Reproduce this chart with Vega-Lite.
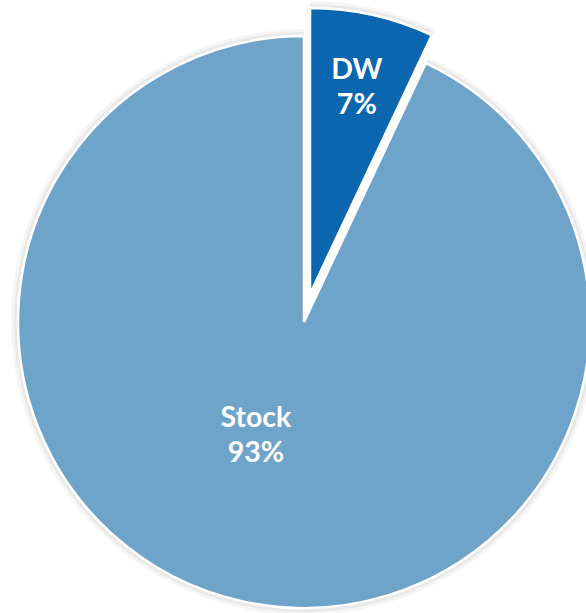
{
  "$schema": "https://vega.github.io/schema/vega-lite/v6.json",
  "width": 564,
  "height": 582,
  "autosize": {"type": "none"},
  "padding": {"left": 22, "top": 31, "right": 0, "bottom": 0},
  "background": "white",
  "config": {"view": {"stroke": null}},
  "data": {
    "values": [
      {"name": "DW", "value": 7, "label": "DW\n7%"},
      {"name": "Stock", "value": 93, "label": "Stock\n93%"}
    ]
  },
  "encoding": {
    "theta": {"field": "value", "type": "quantitative", "stack": true},
    "order": {"field": "name", "type": "ordinal", "sort": "ascending"}
  },
  "layer": [
    {
      "mark": {"type": "arc", "outerRadius": 293, "fill": "#000000", "fillOpacity": 0.04, "strokeOpacity": 0},
      "encoding": {"opacity": {"condition": {"test": "datum.name === 'Stock'", "value": 1}, "value": 0}}
    },
    {
      "mark": {"type": "arc", "outerRadius": 290, "fill": "#000000", "fillOpacity": 0.05, "strokeOpacity": 0},
      "encoding": {"opacity": {"condition": {"test": "datum.name === 'Stock'", "value": 1}, "value": 0}}
    },
    {
      "mark": {"type": "arc", "outerRadius": 293, "fill": "#000000", "fillOpacity": 0.04, "strokeOpacity": 0, "xOffset": 6, "yOffset": -28},
      "encoding": {"opacity": {"condition": {"test": "datum.name === 'DW'", "value": 1}, "value": 0}}
    },
    {
      "mark": {"type": "arc", "outerRadius": 290, "fill": "#000000", "fillOpacity": 0.05, "strokeOpacity": 0, "xOffset": 6, "yOffset": -28},
      "encoding": {"opacity": {"condition": {"test": "datum.name === 'DW'", "value": 1}, "value": 0}}
    },
    {
      "mark": {"type": "arc", "outerRadius": 286, "stroke": "white", "strokeWidth": 2.5},
      "encoding": {
        "color": {"field": "name", "type": "nominal", "scale": {"domain": ["DW", "Stock"], "range": ["#0b66b0", "#6fa4ca"]}, "legend": null},
        "opacity": {"condition": {"test": "datum.name === 'Stock'", "value": 1}, "value": 0}
      }
    },
    {
      "mark": {"type": "arc", "outerRadius": 286, "stroke": "white", "strokeWidth": 2.5, "xOffset": 6, "yOffset": -28},
      "encoding": {
        "color": {"field": "name", "type": "nominal", "scale": {"domain": ["DW", "Stock"], "range": ["#0b66b0", "#6fa4ca"]}, "legend": null},
        "opacity": {"condition": {"test": "datum.name === 'DW'", "value": 1}, "value": 0}
      }
    },
    {
      "mark": {"type": "text", "radius": 242, "dy": -16, "font": "Lato", "fontWeight": "bold", "fontSize": 28.5, "lineHeight": 35, "lineBreak": "\n", "fill": "white", "align": "center", "baseline": "middle"},
      "encoding": {
        "text": {"field": "label"},
        "opacity": {"condition": {"test": "datum.name === 'DW'", "value": 1}, "value": 0}
      }
    },
    {
      "mark": {"type": "text", "radius": 115, "dx": -23, "dy": -16, "font": "Lato", "fontWeight": "bold", "fontSize": 28.5, "lineHeight": 35, "lineBreak": "\n", "fill": "white", "align": "center", "baseline": "middle"},
      "encoding": {
        "text": {"field": "label"},
        "opacity": {"condition": {"test": "datum.name === 'Stock'", "value": 1}, "value": 0}
      }
    }
  ]
}
